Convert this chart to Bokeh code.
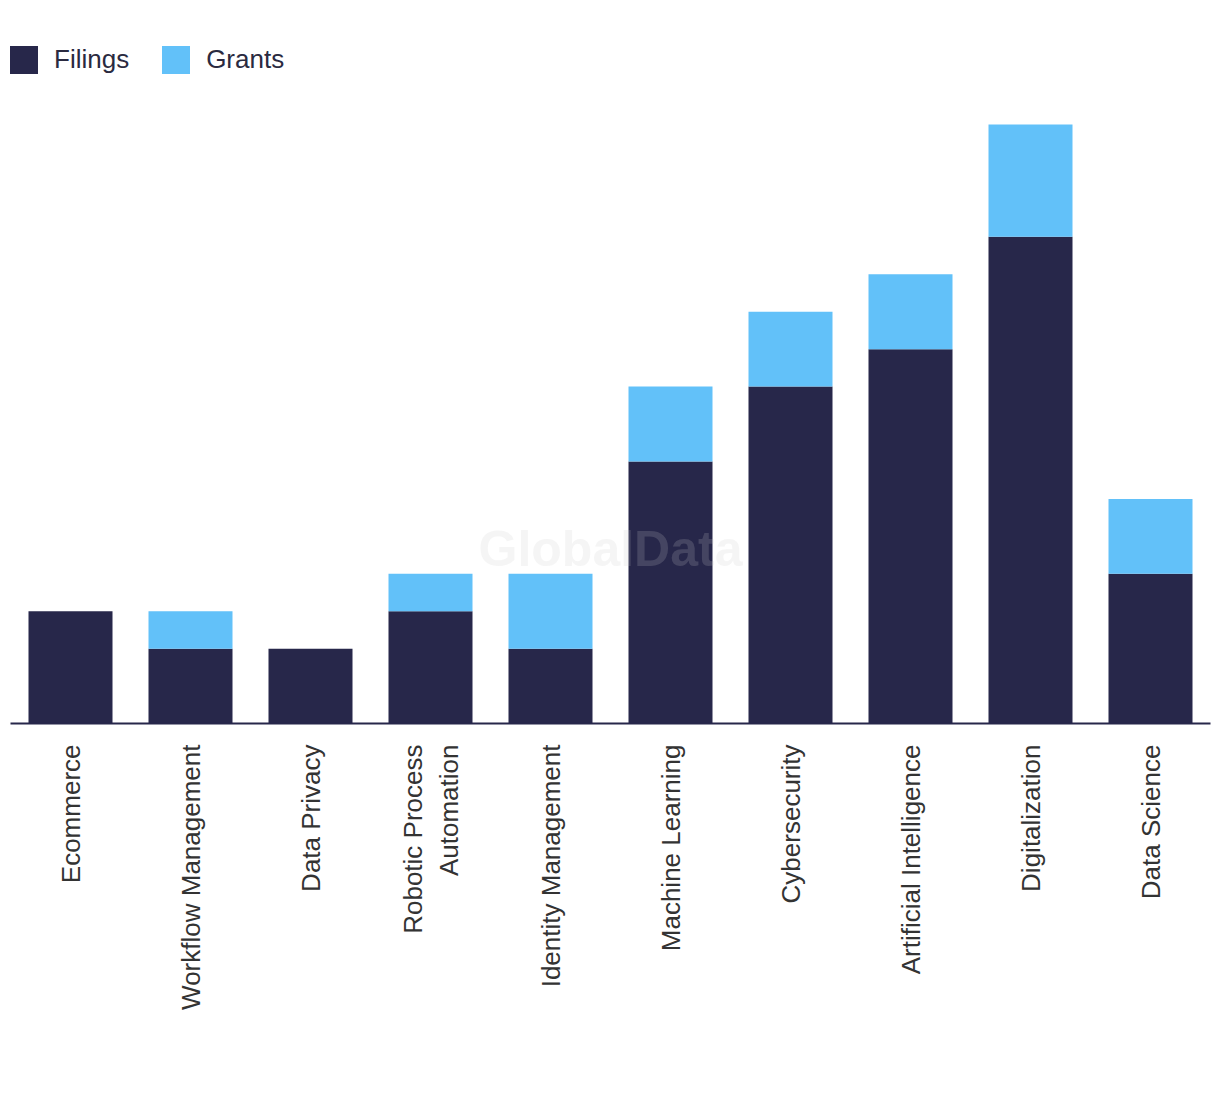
import math
from bokeh.plotting import figure
from bokeh.models import FactorRange, Range1d, Legend, LegendItem, Label, ColumnDataSource
from bokeh.embed import file_html
from bokeh.resources import INLINE

categories = ["Ecommerce", "Workflow Management", "Data Privacy", "Robotic Process\nAutomation",
              "Identity Management", "Machine Learning", "Cybersecurity",
              "Artificial Intelligence", "Digitalization", "Data Science"]
filings = [3, 2, 2, 3, 2, 7, 9, 10, 13, 4]
grants = [0, 1, 0, 1, 2, 2, 2, 2, 3, 2]

DARK = "#27274a"
LIGHT = "#62c1f9"

src = ColumnDataSource(dict(cat=categories, filings=filings, grants=grants,
                            top=[f + g for f, g in zip(filings, grants)]))

p = figure(x_range=FactorRange(*categories, range_padding=0),
           y_range=Range1d(0, 18.78),
           width=1212, height=1088, output_backend="svg", toolbar_location=None,
           min_border_left=10, min_border_right=2, min_border_top=20, min_border_bottom=365)
p.x_range.range_padding = 0

r1 = p.vbar(x="cat", bottom=0, top="filings", width=0.7, fill_color=DARK, line_color=None, source=src)
r2 = p.vbar(x="cat", bottom="filings", top="top", width=0.7, fill_color=LIGHT, line_color=None, source=src)

p.xgrid.visible = False
p.ygrid.visible = False
p.yaxis.visible = False
p.outline_line_color = None

ax = p.xaxis[0]
ax.major_label_orientation = math.pi / 2
ax.major_tick_line_color = None
ax.minor_tick_line_color = None
ax.axis_line_color = DARK
ax.axis_line_width = 2
ax.major_label_standoff = 15
ax.major_label_text_font = "Liberation Sans"
ax.major_label_text_font_size = "26px"
ax.major_label_text_color = "#333333"

wm = Label(x=600, y=723 - 548, x_units="screen", y_units="screen", text="GlobalData",
           text_font="Liberation Sans", text_font_style="bold", text_font_size="50px",
           text_color="#cacaca", text_alpha=0.19, text_align="center", text_baseline="middle")
p.add_layout(wm)

legend = Legend(items=[LegendItem(label="Filings", renderers=[r1]),
                       LegendItem(label="Grants", renderers=[r2])],
                orientation="horizontal", location=(-4, 646),
                glyph_width=35, glyph_height=35, label_standoff=13, spacing=29,
                padding=0, margin=0, border_line_alpha=0, background_fill_alpha=0,
                label_text_font="Liberation Sans", label_text_font_size="26px",
                label_text_color="#2a2a40", label_height=35)
p.add_layout(legend)

open("out.html", "w").write(file_html(p, INLINE))
